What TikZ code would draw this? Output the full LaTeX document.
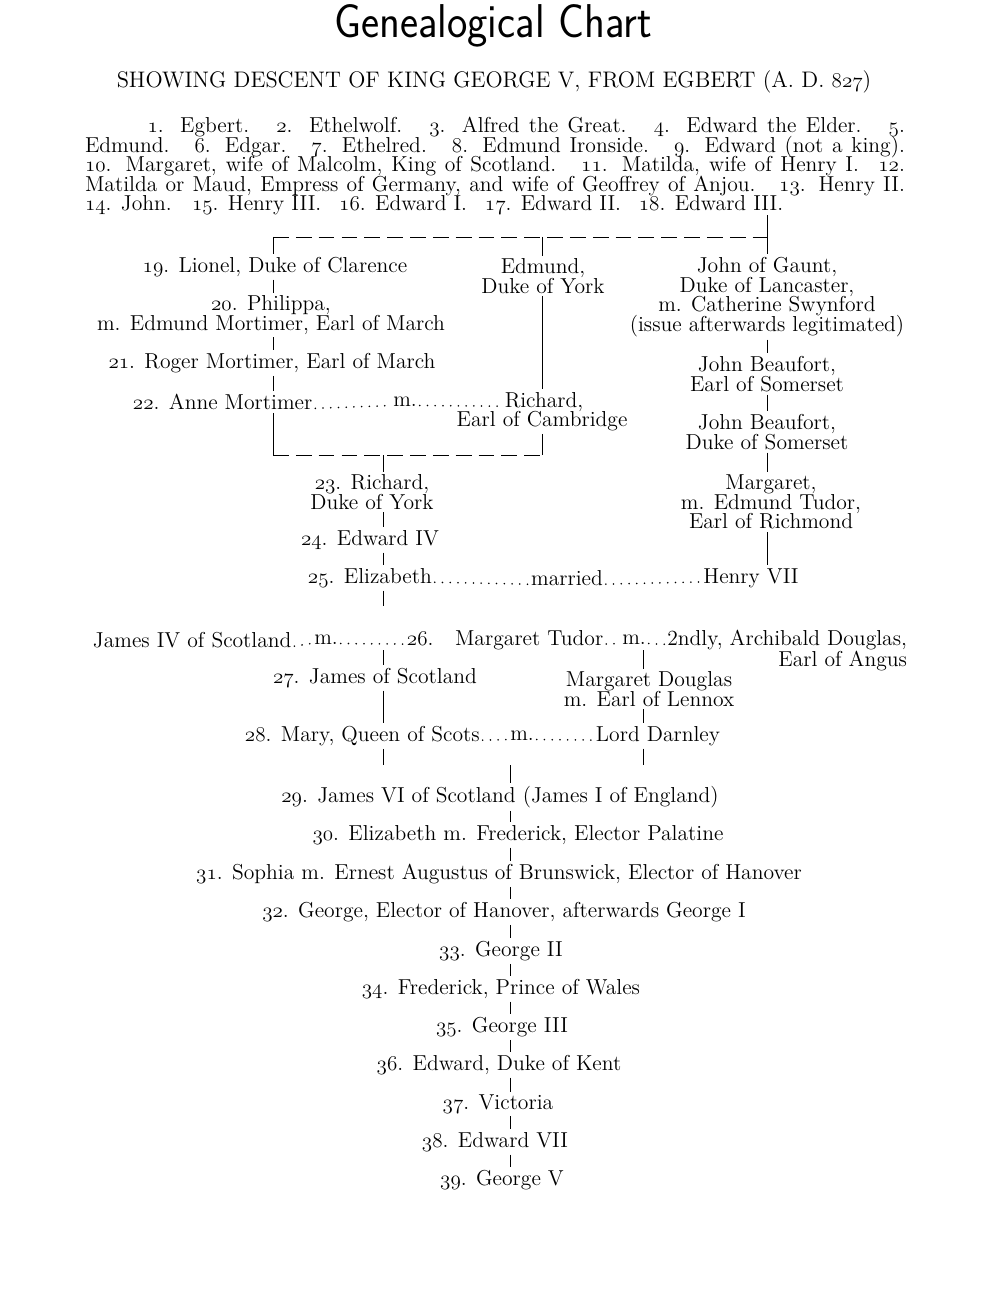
\documentclass[tikz,border=0pt]{standalone}
\usepackage{fontspec}
\usepackage{graphicx}
\usepackage{tikz}

\newcommand{\kn}[1]{{\usefont{OML}{cmm}{m}{it}#1}.}
\newcommand{\tightlines}{\lineskiplimit=-10pt\relax}

\tikzset{
  person/.style={inner sep=1.5pt, align=center},
  line/.style={line width=0.5pt},
  bar/.style={line width=0.5pt, dash pattern=on 9pt off 4pt},
  marry/.style={line width=1pt, line cap=round, dash pattern=on 0pt off 4.4pt},
}

\begin{document}
\begin{tikzpicture}[x=0.02cm, y=-0.02cm, font=\fontsize{12.3}{11.1}\selectfont\tightlines]
    \useasboundingbox (0,0) rectangle (1000,1300);

    % Heading
    \node (title) at (493,26) {\scalebox{0.91}[1]{\fontsize{27}{27}\selectfont\sffamily Genealogical Chart}};
    \node (sub) at (494,82) {\fontsize{12.8}{13}\selectfont SHOWING DESCENT OF KING GEORGE V, FROM EGBERT (A. D. {\usefont{OML}{cmm}{m}{it}827})};

    % Kings 1 to 18
    \node[text width=16.4cm, align=justify, inner sep=0pt] (kings) at (495,166) {%
      \hspace*{1.25cm}\kn{1} Egbert. \enskip\kn{2} Ethelwolf. \enskip\kn{3} Alfred the Great. \enskip\kn{4} Edward the Elder. \enskip\kn{5}\linebreak
      Edmund. \enskip\kn{6} Edgar. \enskip\kn{7} Ethelred. \enskip\kn{8} Edmund Ironside. \enskip\kn{9} Edward (not a king).\linebreak
      \kn{10} Margaret, wife of Malcolm, King of Scotland. \enskip\kn{11} Matilda, wife of Henry I. \enskip\kn{12}\linebreak
      Matilda or Maud, Empress of Germany, and wife of Geoffrey of Anjou. \enskip\kn{13} Henry II.\linebreak
      \kn{14} John. \enskip\kn{15} Henry III. \enskip\kn{16} Edward I. \enskip\kn{17} Edward II. \enskip\kn{18} Edward III.};

    % Columns
    \coordinate (colL) at (273,0);
    \coordinate (colE) at (542,0);
    \coordinate (colG) at (767,0);
    \coordinate (colY) at (383,0);
    \coordinate (colD) at (643,0);
    \coordinate (colC) at (510,0);

    % Sons of Edward III
    \node[person] (lionel) at (275,267) {\kn{19} Lionel, Duke of Clarence};
    \node[person] (edmund) at (543,276) {Edmund,\\Duke of York};
    \node[person] (gaunt) at (767,297) {John of Gaunt,\\Duke of Lancaster,\\m. Catherine Swynford\\(issue afterwards\ legitimated)};
    \node[person] (philippa) at (271,315) {\kn{20} Philippa,\\m. Edmund Mortimer, Earl of March};
    \node[person] (roger) at (272,363) {\kn{21} Roger Mortimer, Earl of March};
    \node[person, anchor=west] (anne) at (130,402) {\kn{22} Anne Mortimer};
    \node[person] (m1) at (405,402) {m.};
    \node[person] (richard) at (544,402) {Richard,};
    \node[person] (cambridge) at (542,421) {Earl of Cambridge};
    \node[person] (jbeau1) at (767,374) {John Beaufort,\\Earl of Somerset};
    \node[person] (jbeau2) at (767,432) {John Beaufort,\\Duke of Somerset};
    \node[person] (margaret) at (771,502) {Margaret,\\m. Edmund Tudor,\\Earl of Richmond};

    % York and Tudor
    \node[person] (york) at (372,492) {\kn{23} Richard,\\Duke of York};
    \node[person] (edw4) at (370,540) {\kn{24} Edward IV};
    \node[person, anchor=west] (eliz) at (305,578) {\kn{25} Elizabeth};
    \node[person] (married) at (567,578) {married};
    \node[person] (henry7) at (751,578) {Henry VII};

    % Scotland
    \node[person, anchor=west] (james4) at (90,640) {James IV of Scotland};
    \node[person] (m2) at (326,640) {m.};
    \node[person, anchor=west] (margtudor) at (404,640) {\kn{26}\quad Margaret Tudor};
    \node[person] (m3) at (634,640) {m.};
    \node[person, anchor=east] (douglas) at (910,640) {2ndly, Archibald Douglas,};
    \node[person, anchor=east] (angus) at (910,661) {Earl of Angus};
    \node[person] (james5) at (375,678) {\kn{27} James of Scotland};
    \node[person] (margdoug) at (649,689) {Margaret Douglas\\m. Earl of Lennox};
    \node[person, anchor=west] (mary) at (242,736) {\kn{28} Mary, Queen of Scots};
    \node[person] (m4) at (522,736) {m.};
    \node[person, anchor=west] (darnley) at (593,736) {Lord Darnley};

    % Stuarts and Hanoverians
    \node[person] (g29) at (500,797) {\kn{29} James VI of Scotland (James I of England)};
    \node[person] (g30) at (518,835) {\kn{30} Elizabeth m. Frederick, Elector Palatine};
    \node[person] (g31) at (499,874) {\kn{31} Sophia m. Ernest Augustus of Brunswick, Elector of Hanover};
    \node[person] (g32) at (504,912) {\kn{32} George, Elector of Hanover, afterwards George I};
    \node[person] (g33) at (501,951) {\kn{33} George II};
    \node[person] (g34) at (501,989) {\kn{34} Frederick, Prince of Wales};
    \node[person] (g35) at (502,1027) {\kn{35} George III};
    \node[person] (g36) at (499,1065) {\kn{36} Edward, Duke of Kent};
    \node[person] (g37) at (498,1104) {\kn{37} Victoria};
    \node[person] (g38) at (495,1142) {\kn{38} Edward VII};
    \node[person] (g39) at (502,1180) {\kn{39} George V};

    % Join points
    \coordinate (clanL) at (273,237);
    \coordinate (clanR) at (767,237);
    \coordinate (yorkL) at (273,455);
    \coordinate (yorkR) at (542,455);
    \coordinate (tudorend) at (383,606);
    \coordinate (wed1) at (383,650);
    \coordinate (wed2) at (643,650);
    \coordinate (end1) at (383,765);
    \coordinate (end2) at (643,765);
    \coordinate (join) at (510,765);

    % Lines of descent
    \draw[line] (kings.south -| colG) -- (clanR);
    \draw[bar] (clanL) -- (clanR);
    \draw[line] (clanL) -- (lionel.north -| colL);
    \draw[line] (clanL -| colE) -- (edmund.north -| colE);
    \draw[line] (clanR) -- (gaunt.north -| colG);
    \foreach \a/\b in {lionel/philippa, philippa/roger, roger/anne}
      \draw[line] (\a.south -| colL) -- (\b.north -| colL);
    \draw[line] (anne.south -| colL) -- (yorkL);
    \draw[line] (edmund.south -| colE) -- (richard.north -| colE);
    \draw[line] (cambridge.south -| colE) -- (yorkR);
    \draw[bar] (yorkL) -- (yorkR);
    \foreach \a/\b in {gaunt/jbeau1, jbeau1/jbeau2, jbeau2/margaret, margaret/henry7}
      \draw[line] (\a.south -| colG) -- (\b.north -| colG);
    \draw[line] (yorkL -| colY) -- (york.north -| colY);
    \foreach \a/\b in {york/edw4, edw4/eliz}
      \draw[line] (\a.south -| colY) -- (\b.north -| colY);
    \draw[line] (eliz.south -| colY) -- (tudorend);
    \draw[line] (wed1) -- (james5.north -| colY);
    \draw[line] (james5.south -| colY) -- (mary.north -| colY);
    \draw[line] (mary.south -| colY) -- (end1);
    \draw[line] (wed2) -- (margdoug.north -| colD);
    \draw[line] (margdoug.south -| colD) -- (darnley.north -| colD);
    \draw[line] (darnley.south -| colD) -- (end2);
    \draw[line] (join) -- (g29.north -| colC);
    \foreach \i [evaluate=\i as \j using int(\i+1)] in {29,...,38}
      \draw[line] (g\i.south -| colC) -- (g\j.north -| colC);

    % Marriages
    \foreach \a/\b in {anne/m1, m1/richard, eliz/married, married/henry7, james4/m2, m2/margtudor, margtudor/m3, m3/douglas, mary/m4, m4/darnley}
      \draw[marry] ([yshift=0.7pt]\a.base east) -- ([yshift=0.7pt]\b.base west);
\end{tikzpicture}
\end{document}
